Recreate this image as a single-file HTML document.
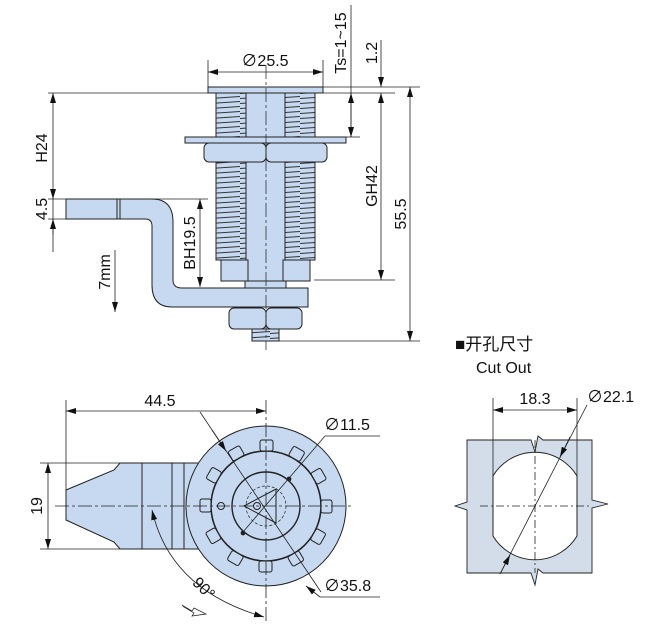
<!DOCTYPE html>
<html><head><meta charset="utf-8"><style>
html,body{margin:0;padding:0;background:#fff;}
svg{display:block;}
text{font-family:"Liberation Sans","Noto Sans CJK SC",sans-serif;fill:#111;}
</style></head><body>
<svg width="650" height="629" viewBox="0 0 650 629" xmlns="http://www.w3.org/2000/svg">
<defs>
<marker id="a" viewBox="0 0 10 6" refX="10" refY="3" markerWidth="10" markerHeight="6" orient="auto-start-reverse" markerUnits="userSpaceOnUse"><path d="M0,0 L10,3 L0,6 z" fill="#111"/></marker>
<pattern id="th" width="30" height="5" patternUnits="userSpaceOnUse"><rect width="30" height="5" fill="#c6d9f0"/><path d="M0,3.5 L30,1.5" stroke="#333" stroke-width="1.1"/></pattern>
</defs>
<g stroke="#222" stroke-width="1" fill="#c6d9f0">
<rect x="208" y="87" width="115" height="6"/>
<rect x="216" y="93" width="30" height="44" fill="url(#th)"/>
<rect x="285" y="93" width="30" height="44" fill="url(#th)"/>
<rect x="246" y="93" width="39" height="188"/>
<rect x="185" y="137" width="161" height="6"/>
<rect x="204" y="143" width="62" height="19" rx="5"/>
<rect x="266" y="143" width="61" height="19" rx="5"/>
<rect x="216" y="162" width="30" height="98" fill="url(#th)"/>
<rect x="285" y="162" width="30" height="98" fill="url(#th)"/>
<rect x="221" y="260" width="27" height="21"/>
<rect x="283" y="260" width="27" height="21"/>
<rect x="245" y="281" width="41" height="7"/>
<path d="M66,199 L152,199 Q173,199 173,222 L173,280 Q173,288 182,288 L308,288 L308,307 L172,307 Q152,307 152,285 L152,226 Q152,219 145,219 L66,219 Z"/>
<line x1="117" y1="199" x2="117" y2="219"/><line x1="120" y1="199" x2="120" y2="219"/>
<rect x="229" y="308" width="37" height="21" rx="5"/>
<rect x="266" y="308" width="36" height="21" rx="5"/>
<rect x="252" y="329" width="27" height="12" fill="url(#th)"/>
</g>
<line x1="266" y1="65" x2="266" y2="350" stroke="#333" stroke-dasharray="14,3,3,3" stroke-width="0.8"/>
<g stroke="#222" stroke-width="0.8" fill="none">
<line x1="208" y1="60" x2="208" y2="87"/><line x1="323" y1="60" x2="323" y2="87"/>
<line x1="208" y1="72" x2="323" y2="72" marker-start="url(#a)" marker-end="url(#a)"/>
<line x1="323" y1="87" x2="420" y2="87"/><line x1="323" y1="93" x2="395" y2="93"/>
<line x1="346" y1="137" x2="360" y2="137"/>
<line x1="351" y1="5" x2="351" y2="137"/>
<line x1="351" y1="93" x2="351" y2="137" marker-start="url(#a)" marker-end="url(#a)"/>
<line x1="381" y1="40" x2="381" y2="87" marker-end="url(#a)"/>
<line x1="381" y1="93" x2="381" y2="280" marker-start="url(#a)" marker-end="url(#a)"/>
<line x1="314" y1="280" x2="395" y2="280"/>
<line x1="279" y1="341" x2="420" y2="341"/>
<line x1="410" y1="87" x2="410" y2="341" marker-start="url(#a)" marker-end="url(#a)"/>
<line x1="48" y1="93" x2="208" y2="93"/>
<line x1="53" y1="93" x2="53" y2="199" marker-start="url(#a)" marker-end="url(#a)"/>
<line x1="53" y1="199" x2="53" y2="252"/>
<line x1="53" y1="219" x2="53" y2="235" marker-start="url(#a)"/>
<line x1="48" y1="199" x2="66" y2="199"/><line x1="48" y1="219" x2="66" y2="219"/>
<line x1="152" y1="199" x2="208" y2="199"/>
<line x1="200" y1="199" x2="200" y2="287" marker-start="url(#a)" marker-end="url(#a)"/>
<line x1="115" y1="250" x2="115" y2="312" marker-end="url(#a)"/>
</g>
<text x="265" y="66" font-size="16" text-anchor="middle">∅25.5</text>
<text transform="translate(346,43) rotate(-90)" font-size="16" text-anchor="middle">Ts=1~15</text>
<text transform="translate(377,53) rotate(-90)" font-size="16" text-anchor="middle">1.2</text>
<text transform="translate(377,186) rotate(-90)" font-size="16" text-anchor="middle">GH42</text>
<text transform="translate(406,214) rotate(-90)" font-size="16" text-anchor="middle">55.5</text>
<text transform="translate(47,148) rotate(-90)" font-size="16" text-anchor="middle">H24</text>
<text transform="translate(47,209) rotate(-90)" font-size="16" text-anchor="middle">4.5</text>
<text transform="translate(195,243) rotate(-90)" font-size="16" text-anchor="middle">BH19.5</text>
<text transform="translate(110,272) rotate(-90)" font-size="16" text-anchor="middle">7mm</text>
<g stroke="#222" stroke-width="1" fill="#c6d9f0">
<path d="M66,490 L114,470 L120,463 L200,463 L200,549 L120,549 L114,542 L66,520 Z"/>
<line x1="142" y1="463" x2="142" y2="549"/><line x1="172" y1="463" x2="172" y2="549"/><line x1="184" y1="463" x2="184" y2="549"/>
<circle cx="266" cy="506" r="80"/>
<circle cx="266" cy="506" r="55" stroke-width="1.6"/>
<rect x="260" y="440" width="13" height="11" rx="2"/>
<rect x="260" y="440" width="13" height="11" rx="2" transform="rotate(30 266 506)"/>
<rect x="260" y="440" width="13" height="11" rx="2" transform="rotate(60 266 506)"/>
<rect x="260" y="440" width="13" height="11" rx="2" transform="rotate(90 266 506)"/>
<rect x="260" y="440" width="13" height="11" rx="2" transform="rotate(120 266 506)"/>
<rect x="260" y="440" width="13" height="11" rx="2" transform="rotate(150 266 506)"/>
<rect x="260" y="440" width="13" height="11" rx="2" transform="rotate(180 266 506)"/>
<rect x="260" y="440" width="13" height="11" rx="2" transform="rotate(210 266 506)"/>
<rect x="260" y="440" width="13" height="11" rx="2" transform="rotate(240 266 506)"/>
<rect x="260" y="440" width="13" height="11" rx="2" transform="rotate(270 266 506)"/>
<rect x="260" y="440" width="13" height="11" rx="2" transform="rotate(300 266 506)"/>
<rect x="260" y="440" width="13" height="11" rx="2" transform="rotate(330 266 506)"/>
<circle cx="266" cy="506" r="34" stroke-width="1.4"/>
<circle cx="266" cy="506" r="20" fill="none" stroke-dasharray="3,2" stroke-width="0.7"/>
<path d="M244,506 L276,489 L276,523 Z"/>
<circle cx="257" cy="506" r="3.5"/>
<circle cx="221" cy="506" r="3.5"/>
</g>
<g stroke="#222" stroke-width="0.8" fill="none">
<line x1="55" y1="506" x2="352" y2="506" stroke-dasharray="14,3,3,3"/>
<line x1="266" y1="400" x2="266" y2="622" stroke-dasharray="14,3,3,3"/>
<line x1="66" y1="400" x2="66" y2="490"/>
<line x1="66" y1="411" x2="266" y2="411" marker-start="url(#a)" marker-end="url(#a)"/>
<line x1="40" y1="463" x2="120" y2="463"/><line x1="40" y1="549" x2="120" y2="549"/>
<line x1="48" y1="463" x2="48" y2="549" marker-start="url(#a)" marker-end="url(#a)"/>
<line x1="200" y1="412" x2="321" y2="592"/>
<line x1="212" y1="430" x2="226" y2="451" marker-end="url(#a)"/>
<line x1="306" y1="586" x2="320" y2="597" marker-start="url(#a)"/>
<line x1="320" y1="597" x2="380" y2="597"/>
<line x1="243" y1="532" x2="325" y2="436"/>
<line x1="325" y1="436" x2="380" y2="436"/>
<circle cx="289" cy="479" r="2" fill="#222"/><circle cx="243" cy="533" r="2" fill="#222"/>
<path d="M152,510 Q170,590 264,617" marker-start="url(#a)" marker-end="url(#a)"/>
<path d="M182,605 l10,6 l2,-3 l12,6 l-14,2 l2,-3 l-10,-6 z" stroke-width="0.7"/>
</g>
<text x="160" y="406" font-size="16" text-anchor="middle">44.5</text>
<text transform="translate(42,506) rotate(-90)" font-size="16" text-anchor="middle">19</text>
<text x="324" y="430" font-size="16">∅11.5</text>
<text x="324" y="591" font-size="16">∅35.8</text>
<text transform="translate(200,592) rotate(45)" font-size="16" text-anchor="middle">90°</text>
<text x="455" y="350" font-size="17">■开孔尺寸</text>
<text x="476" y="373" font-size="16">Cut Out</text>
<path d="M467,440 L531,440 L535,452 L538,436 L543,440 L592,440 L592,500 L608,504 L592,508 L592,573 L543,573 L538,569 L535,585 L531,573 L467,573 L467,510 L455,506 L467,502 Z" fill="#d2dde9" stroke="#222" stroke-width="0.9"/>
<path d="M493,476 A49,49 0 0 1 577,476 L577,536 A49,49 0 0 1 493,536 Z" fill="#fff" stroke="#222" stroke-width="1"/>
<g stroke="#222" stroke-width="0.8" fill="none">
<line x1="535" y1="440" x2="535" y2="573" stroke-dasharray="8,3,2,3"/>
<line x1="480" y1="506" x2="590" y2="506" stroke-dasharray="8,3,2,3"/>
<line x1="493" y1="398" x2="493" y2="476"/><line x1="577" y1="398" x2="577" y2="476"/>
<line x1="493" y1="410" x2="577" y2="410" marker-start="url(#a)" marker-end="url(#a)"/>
<line x1="587" y1="405" x2="500" y2="574"/>
<line x1="570" y1="437" x2="560" y2="457" marker-end="url(#a)"/>
<line x1="500" y1="574" x2="510" y2="555" marker-end="url(#a)"/>
</g>
<text x="535" y="404" font-size="16" text-anchor="middle">18.3</text>
<text x="587" y="402" font-size="16">∅22.1</text>
</svg>
</body></html>
